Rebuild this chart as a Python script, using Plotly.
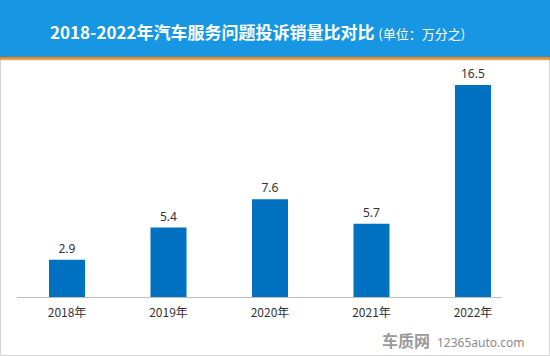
import plotly.graph_objects as go

categories = ["2018年", "2019年", "2020年", "2021年", "2022年"]
values = [2.9, 5.4, 7.6, 5.7, 16.5]
labels = ["2.9", "5.4", "7.6", "5.7", "16.5"]

W, H = 550, 356
def px(x): return x / W
def py(y): return 1 - y / H

fig = go.Figure(go.Bar(
    x=list(range(len(categories))), y=values,
    text=labels, textposition="outside",
    textfont=dict(family="Noto Sans, Noto Sans CJK SC", size=12, color="#333333"),
    marker=dict(color="#0070C0", line=dict(width=0)),
    width=0.355, cliponaxis=False,
))

fig.update_layout(
    width=W, height=H, margin=dict(l=0, r=0, t=0, b=0),
    paper_bgcolor="white", plot_bgcolor="white", showlegend=False,
    xaxis=dict(domain=[px(17), px(502)], range=[-0.493, 4.286],
               tickmode="array", tickvals=list(range(len(categories))), ticktext=categories,
               showgrid=False, zeroline=False, showline=True, linecolor="#BFBFBF", linewidth=1,
               ticks="", ticklabelstandoff=5,
               tickfont=dict(family="Noto Sans CJK SC", size=12, color="#333333")),
    yaxis=dict(domain=[py(297), py(65)], range=[0, 18.05], visible=False),
    shapes=[
        dict(type="rect", xref="paper", yref="paper", x0=0, x1=1, y0=py(57), y1=1,
             fillcolor="#1797E3", line=dict(width=0), layer="below"),
        dict(type="rect", xref="paper", yref="paper", x0=0, x1=1, y0=py(60), y1=py(57),
             fillcolor="#F08A12", line=dict(width=0), layer="below"),
        dict(type="rect", xref="paper", yref="paper", x0=px(0.5), x1=px(549.5), y0=py(355.5), y1=py(60),
             fillcolor="rgba(0,0,0,0)", line=dict(width=1, color="#D4D4D4"), layer="below"),
    ],
    annotations=[
        dict(xref="paper", yref="paper", x=px(48), y=py(31), xanchor="left", yanchor="middle",
             showarrow=False,
             text="<b>2018-2022年汽车服务问题投诉销量比对比</b> <span style='font-size:13px'>(单位：万分之)</span>",
             font=dict(family="Noto Sans CJK SC", size=17, color="white")),
        dict(xref="paper", yref="paper", x=px(432), y=py(340), xanchor="right", yanchor="middle",
             showarrow=False, text="<b>车质网</b>",
             font=dict(family="Noto Sans CJK SC", size=16, color="#9A9A9A")),
        dict(xref="paper", yref="paper", x=px(435), y=py(342), xanchor="left", yanchor="middle",
             showarrow=False, text="12365auto.com",
             font=dict(family="Noto Sans", size=12, color="#8A8A8A")),
    ],
)

fig.write_html("out.html", config={"displayModeBar": False},
               post_script="document.body.style.margin='0';")
